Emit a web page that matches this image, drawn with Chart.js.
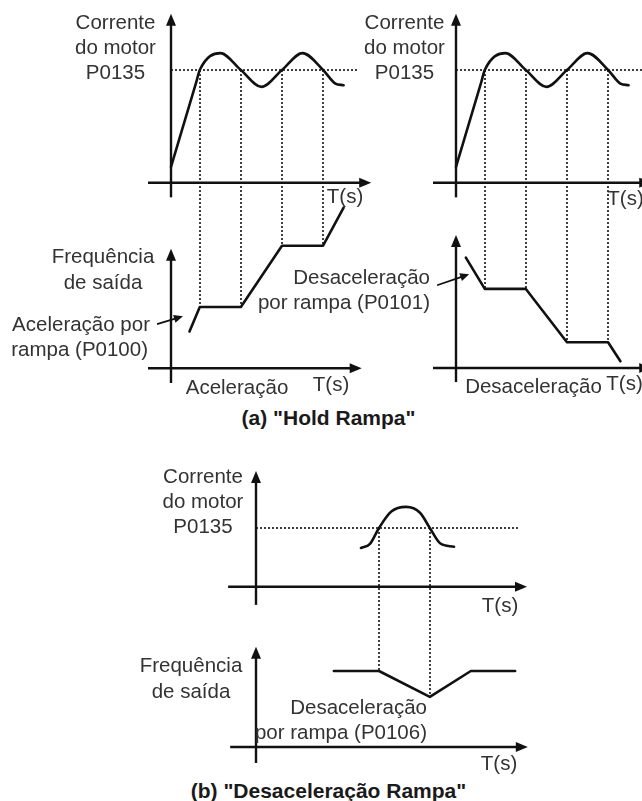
<!DOCTYPE html>
<html>
<head>
<meta charset="utf-8">
<script src="https://cdn.jsdelivr.net/npm/chart.js@4.4.1/dist/chart.umd.min.js"></script>
<style>
body { margin: 0; background: #fff; }
#fig { position: relative; width: 642px; height: 801px; overflow: hidden; font-family: "Liberation Sans", Arial, sans-serif; color: #333; }
.box { position: absolute; }
.lbl { position: absolute; font-size: 20.5px; line-height: 1; white-space: nowrap; }
.cap { font-weight: bold; font-size: 21px; color: #1a1a1a; }
</style>
</head>
<body>
<div id="fig"></div>
<script>
// valores (tempo em unidades arbitrarias)
var tCorrente = [0, 0.62, 0.7, 1.2, 1.7, 2.2, 2.7, 3.2, 3.7, 4.0, 4.2];
var iCorrente = [0.14, 0.9, 1.0, 1.15, 1.0, 0.85, 1.0, 1.15, 1.0, 0.88, 0.865];
var tFreqAcel = [0.45, 0.7, 1.7, 2.7, 3.7, 4.2];
var fFreqAcel = [0.6, 1.0, 1.0, 2.0, 2.0, 2.62];
var tFreqDesacel = [0.24, 0.7, 1.7, 2.7, 3.7, 4.0];
var fFreqDesacel = [1.8, 1.29, 1.29, 0.42, 0.42, 0.11];
var tCorrenteB = [2.56, 2.78, 3.0, 3.3, 3.66, 4.0, 4.24, 4.49, 4.83];
var iCorrenteB = [0.66, 0.73, 1.0, 1.28, 1.36, 1.26, 1.0, 0.74, 0.68];
var tFreqB = [1.9, 3.0, 4.24, 5.24, 6.32];
var fFreqB = [1.0, 1.0, 0.66, 1.0, 1.0];
var nivelP0135 = 1.0;
var marcasHold = [0.7, 1.7, 2.7, 3.7];
var marcasB = [3.0, 4.24];

// caixa [left, top, width, height] e origem/escala de cada grupo
var grupos = [
    { box: [148, 10, 226, 378], x0: 171, ux: 41.1, yI0: 182.7, uI: 112.7, yF0: 368.3, uF: 61.3,
      corrente: [tCorrente, iCorrente], freq: [tFreqAcel, fFreqAcel], marcas: marcasHold,
      eixoI: { x: [-0.56, 4.87], y: [-0.13, 1.5] }, eixoF: { x: [-0.56, 4.64], y: [-0.24, 1.95] },
      p0135Fim: 4.57, seta: [[-0.34, 0.72], [0.29, 0.85]] },
    { box: [433, 10, 209, 378], x0: 456, ux: 41.1, yI0: 182.7, uI: 112.7, yF0: 368, uF: 61.3,
      corrente: [tCorrente, iCorrente], freq: [tFreqDesacel, fFreqDesacel], marcas: marcasHold,
      eixoI: { x: [-0.56, 4.75], y: [-0.13, 1.5] }, eixoF: { x: [-0.56, 4.75], y: [-0.23, 2.17] },
      p0135Fim: 4.7, seta: [[-0.46, 1.35], [0.32, 1.53]] },
    { box: [226, 466, 306, 300], x0: 256, ux: 41, yI0: 586.7, uI: 58.7, yF0: 747, uF: 76,
      corrente: [tCorrenteB, iCorrenteB], freq: [tFreqB, fFreqB], marcas: marcasB,
      eixoI: { x: [-0.68, 6.61], y: [-0.31, 1.97] }, eixoF: { x: [-0.63, 6.63], y: [-0.21, 1.32] },
      p0135Fim: 6.39, seta: null }
];

var textos = [
    ['Corrente', 115.5, 22, 'c'], ['do motor', 115.5, 47, 'c'], ['P0135', 115.5, 72, 'c'],
    ['Corrente', 404.5, 22, 'c'], ['do motor', 404.5, 47, 'c'], ['P0135', 404.5, 72, 'c'],
    ['T(s)', 345, 196, 'c'], ['T(s)', 625.5, 198, 'c'],
    ['Frequência', 103, 256, 'c'], ['de saída', 103, 282, 'c'],
    ['Aceleração por', 150, 324, 'r'], ['rampa (P0100)', 148, 349, 'r'],
    ['Desaceleração', 430, 277, 'r'], ['por rampa (P0101)', 430, 302, 'r'],
    ['Aceleração', 237, 387, 'c'], ['T(s)', 331, 384, 'c'],
    ['Desaceleração', 533.5, 386, 'c'], ['T(s)', 624.5, 383, 'c'],
    ['Corrente', 203, 476, 'c'], ['do motor', 203, 501, 'c'], ['P0135', 203, 526, 'c'],
    ['T(s)', 500, 605, 'c'],
    ['Frequência', 191, 665, 'c'], ['de saída', 191, 691, 'c'],
    ['Desaceleração', 427, 707, 'r'], ['por rampa (P0106)', 427, 732, 'r'],
    ['T(s)', 499, 763, 'c']
];
var legendas = [['(a) "Hold Rampa"', 328.5, 417], ['(b) "Desaceleração Rampa"', 328.5, 790]];

var fig = document.getElementById('fig');

function faixa(ini, tam, origem, unidade, invertido) {
    if (invertido) return { min: (origem - ini - tam) / unidade, max: (origem - ini) / unidade };
    return { min: (ini - origem) / unidade, max: (ini + tam - origem) / unidade };
}

function pontos(ts, vs) {
    return ts.map(function (t, i) { return { x: t, y: vs[i] }; });
}

function valorEm(ts, vs, t) {
    for (var i = 0; i < ts.length - 1; i++) {
        if (t >= ts[i] && t <= ts[i + 1]) {
            return vs[i] + (vs[i + 1] - vs[i]) * (t - ts[i]) / (ts[i + 1] - ts[i]);
        }
    }
    return vs[vs.length - 1];
}

function seta(ctx, x1, y1, x2, y2, comp, larg) {
    var a = Math.atan2(y2 - y1, x2 - x1), c = Math.cos(a), s = Math.sin(a);
    ctx.beginPath();
    ctx.moveTo(x1, y1);
    ctx.lineTo(x2 - comp * 0.8 * c, y2 - comp * 0.8 * s);
    ctx.stroke();
    ctx.beginPath();
    ctx.moveTo(x2, y2);
    ctx.lineTo(x2 - comp * c + larg * s, y2 - comp * s - larg * c);
    ctx.lineTo(x2 - comp * c - larg * s, y2 - comp * s + larg * c);
    ctx.closePath();
    ctx.fill();
}

function eixosPlugin(g) {
    return {
        id: 'eixos',
        beforeDatasetsDraw: function (chart) {
            var ctx = chart.ctx, sx = chart.scales.x, sI = chart.scales.yI, sF = chart.scales.yF;
            var yNivel = Math.round(sI.getPixelForValue(nivelP0135));
            ctx.save();
            // linhas pontilhadas
            ctx.strokeStyle = '#000';
            ctx.lineWidth = 1.5;
            ctx.setLineDash([2, 2]);
            ctx.beginPath();
            ctx.moveTo(sx.getPixelForValue(0), yNivel);
            ctx.lineTo(sx.getPixelForValue(g.p0135Fim), yNivel);
            g.marcas.forEach(function (t) {
                var x = Math.round(sx.getPixelForValue(t));
                ctx.moveTo(x, yNivel);
                ctx.lineTo(x, sF.getPixelForValue(valorEm(g.freq[0], g.freq[1], t)));
            });
            ctx.stroke();
            ctx.setLineDash([]);
            // eixos com seta
            ctx.strokeStyle = ctx.fillStyle = '#111';
            ctx.lineWidth = 2.4;
            [[g.eixoI, sI], [g.eixoF, sF]].forEach(function (e) {
                var ax = e[0], sy = e[1];
                var x0 = sx.getPixelForValue(0), y0 = sy.getPixelForValue(0);
                seta(ctx, x0, sy.getPixelForValue(ax.y[0]), x0, sy.getPixelForValue(ax.y[1]), 12, 5);
                seta(ctx, sx.getPixelForValue(ax.x[0]), y0, sx.getPixelForValue(ax.x[1]), y0, 12, 5);
            });
            if (g.seta) {
                ctx.lineWidth = 1.8;
                seta(ctx, sx.getPixelForValue(g.seta[0][0]), sF.getPixelForValue(g.seta[0][1]),
                    sx.getPixelForValue(g.seta[1][0]), sF.getPixelForValue(g.seta[1][1]), 9, 4);
            }
            ctx.restore();
        }
    };
}

grupos.forEach(function (g) {
    var div = document.createElement('div');
    div.className = 'box';
    div.style.left = g.box[0] + 'px';
    div.style.top = g.box[1] + 'px';
    var cv = document.createElement('canvas');
    cv.width = g.box[2];
    cv.height = g.box[3];
    div.appendChild(cv);
    fig.appendChild(div);

    var escX = faixa(g.box[0], g.box[2], g.x0, g.ux, false);
    var escI = faixa(g.box[1], g.box[3], g.yI0, g.uI, true);
    var escF = faixa(g.box[1], g.box[3], g.yF0, g.uF, true);

    new Chart(cv, {
        type: 'line',
        data: {
            datasets: [{
                data: pontos(g.corrente[0], g.corrente[1]),
                yAxisID: 'yI',
                cubicInterpolationMode: 'monotone',
                clip: false
            }, {
                data: pontos(g.freq[0], g.freq[1]),
                yAxisID: 'yF',
                tension: 0,
                clip: false
            }]
        },
        options: {
            responsive: false,
            animation: false,
            events: [],
            layout: { padding: 0 },
            plugins: { legend: { display: false }, tooltip: { enabled: false } },
            elements: {
                point: { radius: 0 },
                line: { borderColor: '#111', borderWidth: 2.6, borderCapStyle: 'round', borderJoinStyle: 'round', fill: false }
            },
            scales: {
                x: { type: 'linear', display: false, min: escX.min, max: escX.max },
                yI: { type: 'linear', display: false, min: escI.min, max: escI.max },
                yF: { type: 'linear', display: false, min: escF.min, max: escF.max }
            }
        },
        plugins: [eixosPlugin(g)]
    });
});

textos.forEach(function (t) {
    var d = document.createElement('div');
    d.className = 'lbl';
    d.textContent = t[0];
    d.style.left = t[1] + 'px';
    d.style.top = t[2] + 'px';
    d.style.transform = t[3] === 'r' ? 'translate(-100%,-50%)' : 'translate(-50%,-50%)';
    fig.appendChild(d);
});
legendas.forEach(function (t) {
    var d = document.createElement('div');
    d.className = 'lbl cap';
    d.textContent = t[0];
    d.style.left = t[1] + 'px';
    d.style.top = t[2] + 'px';
    d.style.transform = 'translate(-50%,-50%)';
    fig.appendChild(d);
});
</script>
</body>
</html>
